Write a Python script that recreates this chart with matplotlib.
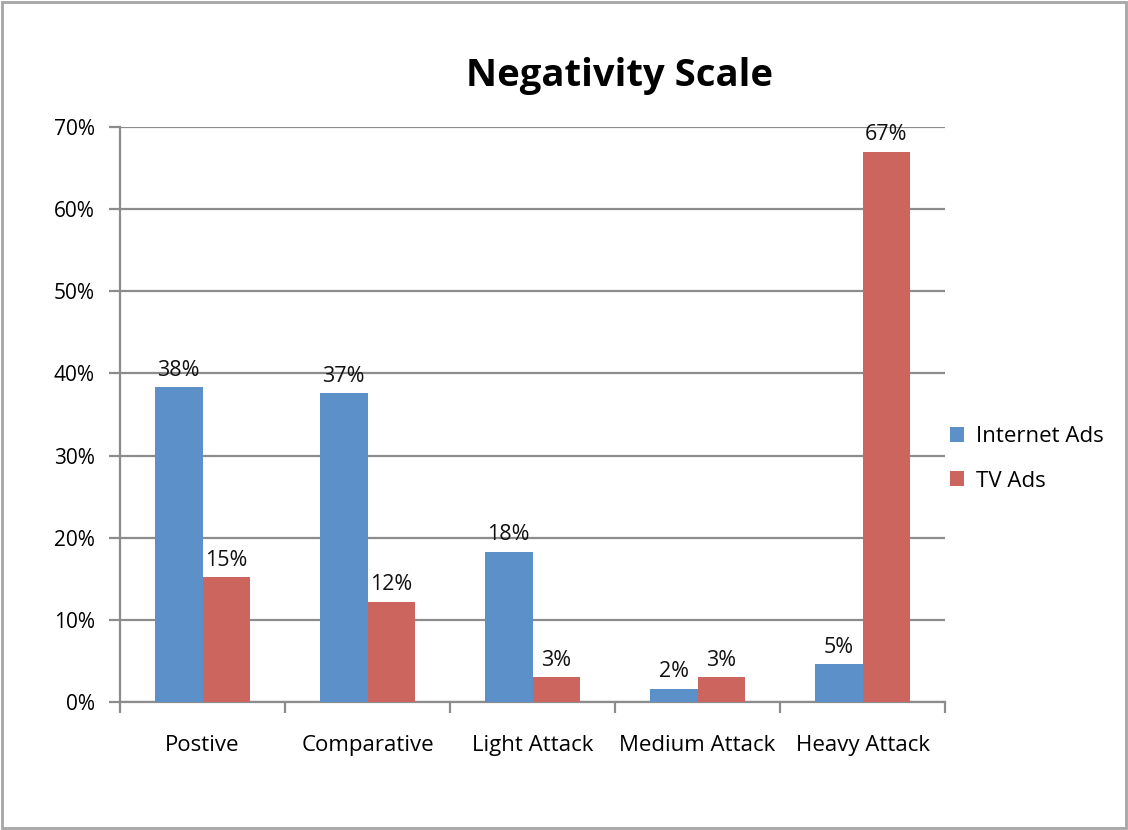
import matplotlib
matplotlib.use("Agg")
import matplotlib.pyplot as plt
from matplotlib.patches import Rectangle
from matplotlib.ticker import FuncFormatter
import numpy as np

categories = ["Postive", "Comparative", "Light Attack", "Medium Attack", "Heavy Attack"]
internet_ads = [38.3, 37.6, 18.3, 1.6, 4.6]
tv_ads = [15.2, 12.2, 3.0, 3.0, 67.0]
internet_labels = ["38%", "37%", "18%", "2%", "5%"]
tv_labels = ["15%", "12%", "3%", "3%", "67%"]
series_names = ["Internet Ads", "TV Ads"]
yticks = [0, 10, 20, 30, 40, 50, 60, 70]

plt.rcParams['font.family'] = ['Open Sans', 'DejaVu Sans']

fig = plt.figure(figsize=(11.28, 8.30), dpi=100)
ax = fig.add_axes([120/1128, 1-702/830, 825/1128, 575/830])

blue = '#5B90C8'
red = '#CB655D'
grid = '#8c8c8c'

x = np.arange(len(categories))
w = 0.29
b1 = ax.bar(x - w/2, internet_ads, w, color=blue, label=series_names[0], zorder=3)
b2 = ax.bar(x + w/2, tv_ads, w, color=red, label=series_names[1], zorder=3)

for rect, lab in zip(b1, internet_labels):
    ax.text(rect.get_x() + rect.get_width()/2, rect.get_height() + 0.8, lab,
            ha='center', va='bottom', fontsize=15.5, color='#111111')
for rect, lab in zip(b2, tv_labels):
    ax.text(rect.get_x() + rect.get_width()/2, rect.get_height() + 0.8, lab,
            ha='center', va='bottom', fontsize=15.5, color='#111111')

ax.set_xlim(-0.5, len(categories) - 0.5)
ax.set_ylim(0, 70)
ax.set_yticks(yticks)
ax.yaxis.set_major_formatter(FuncFormatter(lambda v, p: f"{int(v)}%"))
ax.yaxis.grid(True, color=grid, linewidth=1.6, zorder=0)
ax.set_axisbelow(True)

ax.set_xticks(np.arange(len(categories) + 1) - 0.5, minor=False)
ax.set_xticklabels([])
ax.set_xticks(x, minor=True)
ax.set_xticklabels(categories, minor=True, fontsize=16)
ax.tick_params(axis='x', which='minor', length=0, pad=24)
ax.tick_params(axis='x', which='major', length=8, color=grid, width=1.6)
ax.tick_params(axis='y', length=8, color=grid, width=1.6, labelsize=15, pad=10)

for s in ['top', 'right']:
    ax.spines[s].set_visible(False)
for s in ['left', 'bottom']:
    ax.spines[s].set_color(grid)
    ax.spines[s].set_linewidth(1.6)

fig.text(620/1128, 1-76/830, "Negativity Scale", ha='center', va='center',
         fontsize=27.5, fontweight='bold')

leg = fig.legend(handles=[b1, b2], labels=series_names, loc='center left',
                 bbox_to_anchor=(930/1128, 1-459/830), frameon=False, fontsize=16,
                 handlelength=0.65, handleheight=0.65, labelspacing=1.05, handletextpad=0.5)

fig.patches.append(Rectangle((0.002, 0.002), 0.996, 0.996, transform=fig.transFigure,
                             fill=False, edgecolor='#a6a6a6', linewidth=2))

fig.savefig("out.png", dpi=100)
